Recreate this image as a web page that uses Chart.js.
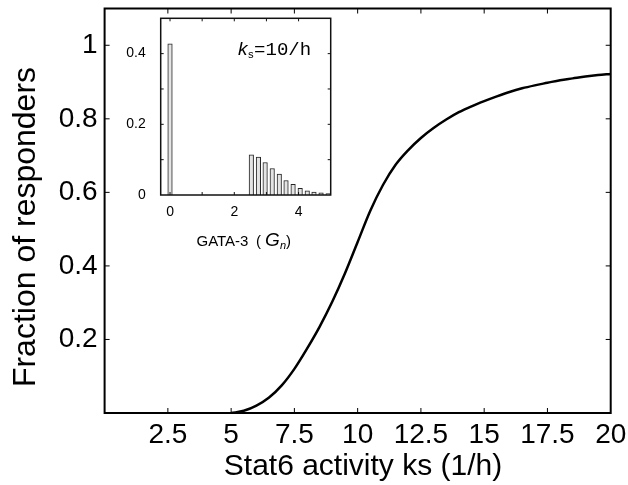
<!DOCTYPE html>
<html><head><meta charset="utf-8">
<script src="https://cdn.jsdelivr.net/npm/chart.js@4/dist/chart.umd.min.js"></script>
<style>
html,body{margin:0;padding:0;background:#fff;}
#wrap{position:relative;width:628px;height:485px;background:#fff;}
#main{position:absolute;left:0;top:0;}
#inset{position:absolute;left:100px;top:0;pointer-events:none;}
</style></head><body>
<div id="wrap">
<canvas id="main" width="628" height="485"></canvas>
<canvas id="inset" width="240" height="260"></canvas>
</div>
<script>
// ---- main curve data ----
const ksValues = [5, 5.5, 6, 6.5, 7, 7.5, 8, 8.5, 9, 9.5, 10, 10.5, 11, 11.5, 12, 12.5, 13, 13.5, 14, 14.5, 15, 15.5, 16, 16.5, 17, 17.5, 18, 18.5, 19, 19.5, 20];
const fractionResponders = [0.0, 0.006, 0.02, 0.042, 0.075, 0.12, 0.175, 0.235, 0.303, 0.38, 0.465, 0.55, 0.62, 0.675, 0.715, 0.748, 0.775, 0.798, 0.818, 0.834, 0.848, 0.861, 0.873, 0.883, 0.891, 0.898, 0.905, 0.91, 0.915, 0.919, 0.922];
const xTickValues = [0, 2.5, 5, 7.5, 10, 12.5, 15, 17.5, 20];
const xTickLabels = ['', '2.5', '5', '7.5', '10', '12.5', '15', '17.5', '20'];
const yTickValues = [0, 0.2, 0.4, 0.6, 0.8, 1];
const yTickLabels = ['', '0.2', '0.4', '0.6', '0.8', '1'];
const xTitle = 'Stat6 activity ks (1/h)';
const yTitle = 'Fraction of responders';

// ---- inset histogram data ----
const gataBins = [0, 2.53, 2.75, 2.96, 3.18, 3.40, 3.61, 3.83, 4.05, 4.27, 4.48, 4.70, 4.92];
const gataFreq = [0.428, 0.114, 0.107, 0.092, 0.075, 0.059, 0.041, 0.030, 0.019, 0.012, 0.008, 0.006, 0.004];
const insetXTickValues = [0, 1, 2, 3, 4];
const insetXTickLabels = ['0', '', '2', '', '4'];
const insetYTickValues = [0, 0.1, 0.2, 0.3, 0.4];
const insetYTickLabels = ['0', '', '0.2', '', '0.4'];

const FONT = "'Liberation Sans', Arial, Helvetica, sans-serif";

function noPad(s) { s.paddingTop = 0; s.paddingBottom = 0; s.paddingLeft = 0; s.paddingRight = 0; }

function frameAndTicks(id, lineW, tickLen, color) {
  return {
    id: id,
    afterDraw(chart) {
      const {ctx, chartArea: a, scales} = chart;
      ctx.save();
      ctx.strokeStyle = color;
      ctx.lineWidth = lineW;
      ctx.strokeRect(a.left, a.top, a.right - a.left, a.bottom - a.top);
      ctx.lineWidth = 1;
      ctx.beginPath();
      scales.x.ticks.forEach(t => {
        const px = scales.x.getPixelForValue(t.value);
        if (px <= a.left + 1 || px >= a.right - 1) return;
        ctx.moveTo(px, a.bottom); ctx.lineTo(px, a.bottom - tickLen);
        ctx.moveTo(px, a.top); ctx.lineTo(px, a.top + tickLen);
      });
      scales.y.ticks.forEach(t => {
        const py = scales.y.getPixelForValue(t.value);
        if (py <= a.top + 1 || py >= a.bottom - 1) return;
        ctx.moveTo(a.left, py); ctx.lineTo(a.left + tickLen, py);
        ctx.moveTo(a.right, py); ctx.lineTo(a.right - tickLen, py);
      });
      ctx.stroke();
      ctx.restore();
    }
  };
}

const mainTitles = {
  id: 'mainTitles',
  afterDraw(chart) {
    const ctx = chart.ctx;
    ctx.save();
    ctx.fillStyle = '#000';
    ctx.textAlign = 'center';
    ctx.textBaseline = 'middle';
    ctx.font = "30px " + FONT;
    ctx.fillText(xTitle, 363, 467);
    ctx.translate(26, 227);
    ctx.rotate(-Math.PI / 2);
    ctx.font = "32px " + FONT;
    ctx.fillText(yTitle, 0, 0);
    ctx.restore();
  }
};

new Chart(document.getElementById('main'), {
  type: 'line',
  data: {
    datasets: [{
      data: ksValues.map((x, i) => ({x: x, y: fractionResponders[i]})),
      borderColor: '#000',
      borderWidth: 2.5,
      pointRadius: 0,
      cubicInterpolationMode: 'monotone',
      fill: false
    }]
  },
  options: {
    responsive: false,
    animation: false,
    layout: {padding: {left: 0, right: 17.3, top: 8.5, bottom: 0}},
    plugins: {legend: {display: false}, tooltip: {enabled: false}},
    scales: {
      x: {
        type: 'linear', min: 0, max: 20,
        afterBuildTicks: s => { s.ticks = xTickValues.map(v => ({value: v})); },
        afterFit: s => { s.height = 72; noPad(s); },
        grid: {display: false, drawTicks: false},
        border: {display: false},
        ticks: {
          autoSkip: false, maxRotation: 0, padding: 5, color: '#000',
          font: {family: FONT, size: 28},
          callback: (v) => { const i = xTickValues.indexOf(v); return i >= 0 ? xTickLabels[i] : ''; }
        }
      },
      y: {
        type: 'linear', min: 0, max: 1.1,
        afterBuildTicks: s => { s.ticks = yTickValues.map(v => ({value: v})); },
        afterFit: s => { s.width = 104.6; noPad(s); },
        grid: {display: false, drawTicks: false},
        border: {display: false},
        ticks: {
          autoSkip: false, padding: 7, color: '#000',
          font: {family: FONT, size: 28},
          callback: (v) => { const i = yTickValues.indexOf(v); return i >= 0 ? yTickLabels[i] : ''; }
        }
      }
    }
  },
  plugins: [frameAndTicks('mainFrame', 2, 5, '#000'), mainTitles]
});

const insetText = {
  id: 'insetText',
  afterDraw(chart) {
    const ctx = chart.ctx;
    ctx.save();
    ctx.fillStyle = '#000';
    ctx.textBaseline = 'alphabetic';
    // k_s = 10/h
    ctx.font = "italic 19px " + FONT;
    ctx.fillText('k', 138, 55);
    let x = 138 + ctx.measureText('k').width;
    ctx.font = "11px 'Liberation Mono', monospace";
    ctx.fillText('s', x, 58);
    x += ctx.measureText('s').width;
    ctx.font = "19px 'Liberation Mono', 'Courier New', monospace";
    ctx.fillText('=10/h', x, 55);
    // GATA-3 (G_n)
    ctx.font = "15px " + FONT;
    ctx.fillText('GATA-3', 96.5, 246);
    ctx.fillText('(', 156, 246);
    ctx.font = "italic 19px " + FONT;
    ctx.fillText('G', 165, 246);
    ctx.font = "italic 11px " + FONT;
    ctx.fillText('n', 180, 249);
    ctx.font = "15px " + FONT;
    ctx.fillText(')', 186, 246);
    ctx.restore();
  }
};

new Chart(document.getElementById('inset'), {
  type: 'bar',
  data: {
    datasets: [{
      data: gataBins.map((x, i) => ({x: x, y: gataFreq[i]})),
      backgroundColor: '#e4e4e4',
      borderColor: '#222',
      borderWidth: 1,
      barThickness: 4.5
    }]
  },
  options: {
    responsive: false,
    animation: false,
    layout: {padding: {left: 0, right: 9.3, top: 18.3, bottom: 0}},
    plugins: {legend: {display: false}, tooltip: {enabled: false}},
    scales: {
      x: {
        type: 'linear', min: -0.29, max: 5.0, offset: false,
        afterBuildTicks: s => { s.ticks = insetXTickValues.map(v => ({value: v})); },
        afterFit: s => { s.height = 65; noPad(s); },
        grid: {display: false, drawTicks: false},
        border: {display: false},
        ticks: {
          autoSkip: false, maxRotation: 0, padding: 9, color: '#000',
          font: {family: FONT, size: 14},
          callback: (v) => { const i = insetXTickValues.indexOf(v); return i >= 0 ? insetXTickLabels[i] : ''; }
        }
      },
      y: {
        type: 'linear', min: 0, max: 0.5,
        afterBuildTicks: s => { s.ticks = insetYTickValues.map(v => ({value: v})); },
        afterFit: s => { s.width = 60.7; noPad(s); },
        grid: {display: false, drawTicks: false},
        border: {display: false},
        ticks: {
          autoSkip: false, padding: 15, color: '#000',
          font: {family: FONT, size: 14},
          callback: (v) => { const i = insetYTickValues.indexOf(v); return i >= 0 ? insetYTickLabels[i] : ''; }
        }
      }
    }
  },
  plugins: [frameAndTicks('insetFrame', 1.5, 3, '#111'), insetText]
});
</script>
</body></html>
